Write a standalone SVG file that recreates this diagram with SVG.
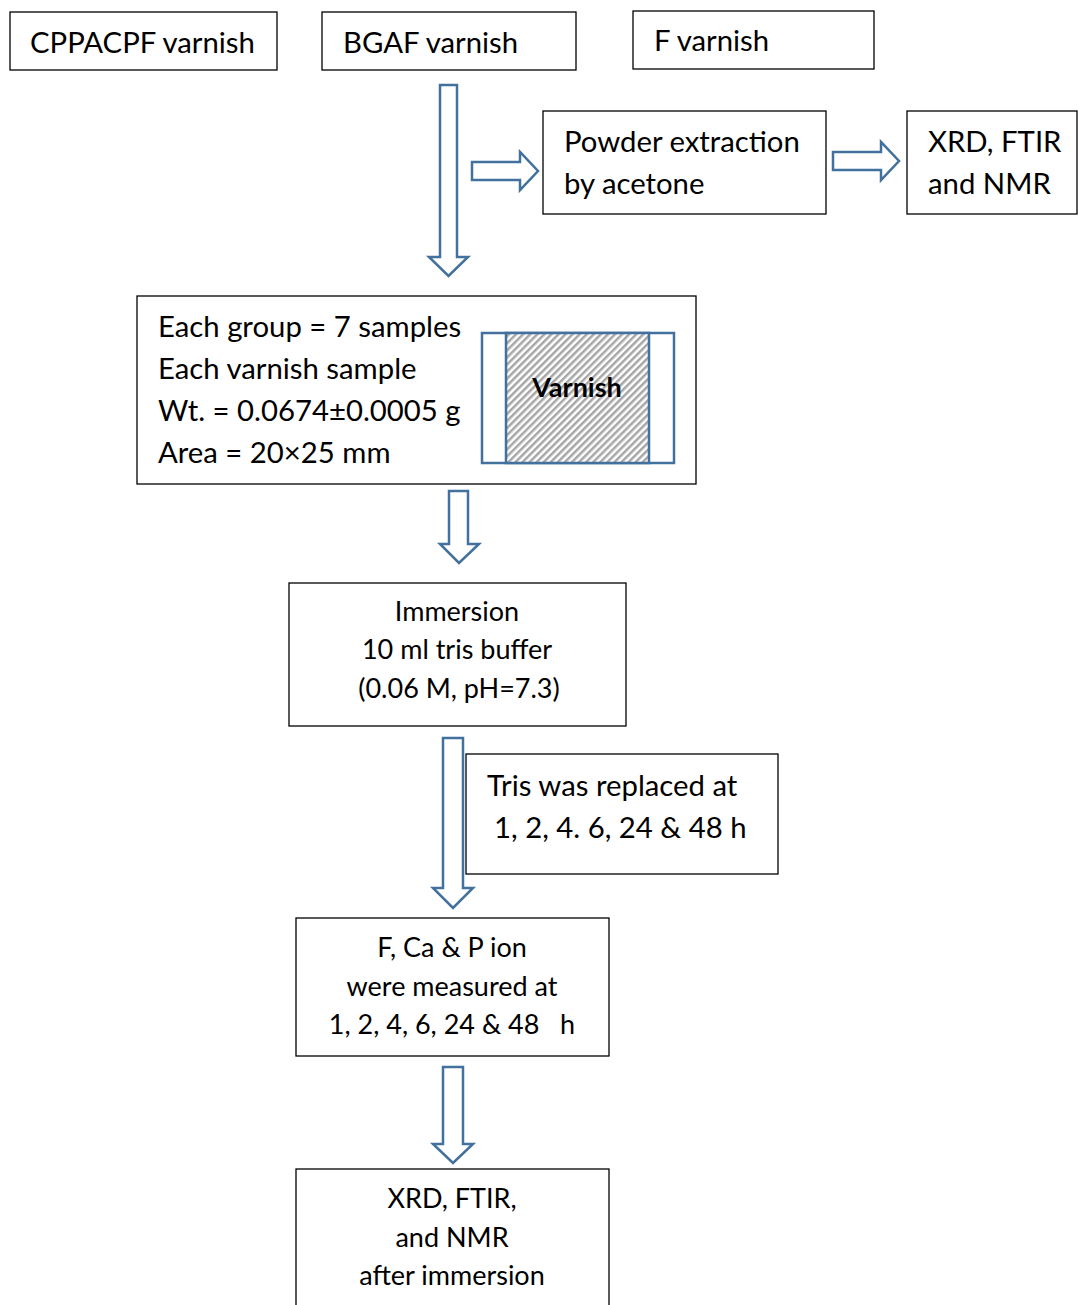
<svg xmlns="http://www.w3.org/2000/svg" width="1078" height="1305" viewBox="0 0 1078 1305">
<style>
.box{fill:#fff;stroke:#000;stroke-width:1.3}
.arr{fill:#fff;stroke:#41719c;stroke-width:2.5;stroke-linejoin:miter}
.t{font-family:Lato,"Open Sans",sans-serif;font-size:29.3px;fill:#000}
.s{font-family:Lato,"Open Sans",sans-serif;font-size:27px;fill:#000;text-anchor:middle}
.b{font-family:Lato,"Open Sans",sans-serif;font-size:27px;font-weight:bold;fill:#000;text-anchor:middle}
</style>
<defs>
<pattern id="hatch" width="5" height="5" patternUnits="userSpaceOnUse" patternTransform="rotate(45)">
<rect width="5" height="5" fill="#fff"/>
<rect x="0" y="0" width="2.5" height="5" fill="#a6a6a6"/>
</pattern>
</defs>
<rect width="1078" height="1305" fill="#fff"/>
<g id="connectors">
<polygon class="arr" points="440,85 457,85 457,257 468,257 448.5,276 429,257 440,257"/>
<polygon class="arr" points="472,162 520,162 520,152 538,171 520,190 520,180 472,180"/>
<polygon class="arr" points="833,152 881,152 881,142 899,161 881,180 881,170 833,170"/>
<polygon class="arr" points="449,491 468,491 468,544 479,544 459,563 440,544 449,544"/>
<polygon class="arr" points="443,738 463,738 463,888 473,888 453,908 433,888 443,888"/>
<polygon class="arr" points="443,1067 463,1067 463,1144 473,1144 453,1163 433,1144 443,1144"/>
</g>
<g id="cppacpf"><rect class="box" x="10" y="12" width="267" height="58"/><text class="t" x="30" y="53">CPPACPF varnish</text></g>
<g id="bgaf"><rect class="box" x="322" y="12" width="254" height="58"/><text class="t" x="343" y="53">BGAF varnish</text></g>
<g id="fvarnish"><rect class="box" x="633" y="11" width="241" height="58"/><text class="t" x="654" y="51">F varnish</text></g>
<g id="powder"><rect class="box" x="543" y="111" width="283" height="103"/><text class="t" x="564" y="152">Powder extraction</text><text class="t" x="564" y="194">by acetone</text></g>
<g id="xrd1"><rect class="box" x="907" y="111" width="170" height="103"/><text class="t" x="928" y="152">XRD, FTIR</text><text class="t" x="928" y="194">and NMR</text></g>
<g id="group">
<rect class="box" x="137" y="296" width="559" height="188"/>
<text class="t" x="158" y="337">Each group = 7 samples</text>
<text class="t" x="158" y="379">Each varnish sample</text>
<text class="t" x="158" y="421">Wt. = 0.0674±0.0005 g</text>
<text class="t" x="158" y="463">Area = 20×25 mm</text>
<rect x="482" y="333" width="192" height="130" fill="#fff" stroke="#41719c" stroke-width="2.5"/>
<rect x="506" y="333" width="143" height="130" fill="url(#hatch)" stroke="#41719c" stroke-width="2.5"/>
<text class="b" x="577" y="397">Varnish</text>
</g>
<g id="immersion"><rect class="box" x="289" y="583" width="337" height="143"/>
<text class="s" x="457" y="621">Immersion</text>
<text class="s" x="457" y="659">10 ml tris buffer</text>
<text class="s" x="459" y="698">(0.06 M, pH=7.3)</text></g>
<g id="tris"><rect class="box" x="466" y="754" width="312" height="120"/>
<text class="t" x="487" y="796">Tris was replaced at</text>
<text class="t" x="494" y="838">1, 2, 4. 6, 24 &amp; 48 h</text></g>
<g id="measure"><rect class="box" x="296" y="918" width="313" height="138"/>
<text class="s" x="452" y="957">F, Ca &amp; P ion</text>
<text class="s" x="452" y="996">were measured at</text>
<text class="s" x="452" y="1034" xml:space="preserve">1, 2, 4, 6, 24 &amp; 48   h</text></g>
<g id="xrd2"><rect class="box" x="296" y="1169" width="313" height="145"/>
<text class="s" x="452" y="1208">XRD, FTIR,</text>
<text class="s" x="452" y="1247">and NMR</text>
<text class="s" x="452" y="1285">after immersion</text></g>
</svg>
